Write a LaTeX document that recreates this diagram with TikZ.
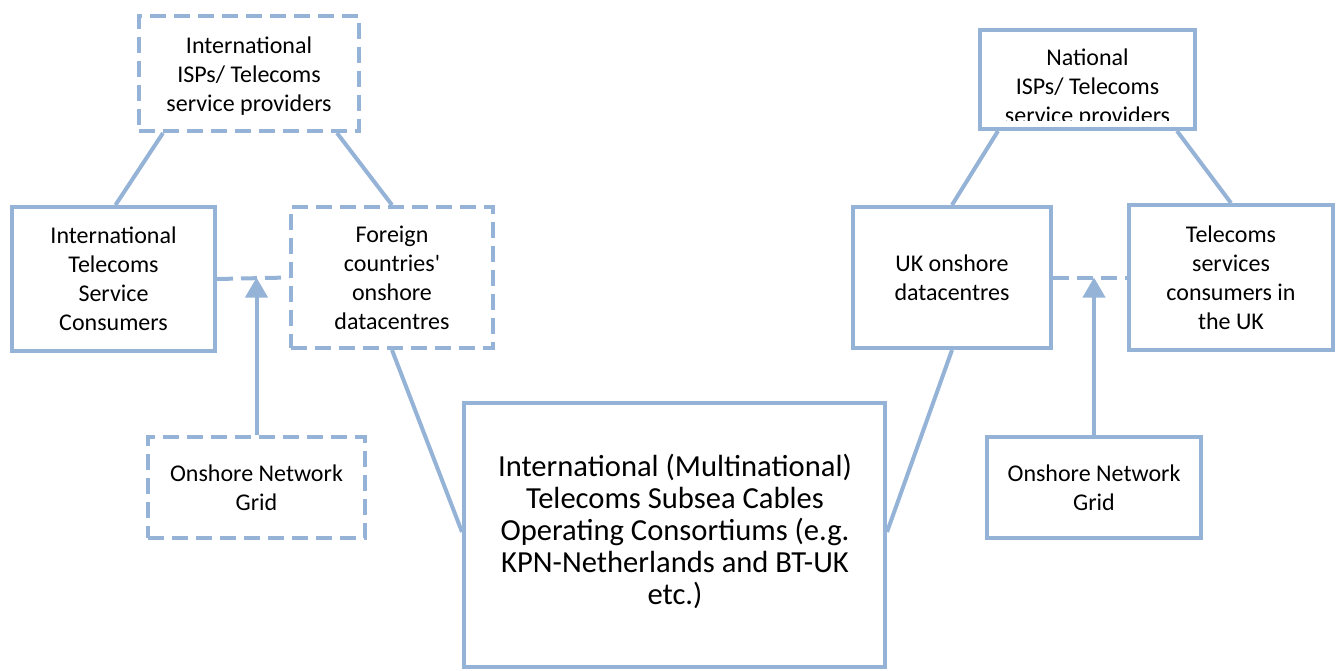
\documentclass[tikz,border=0pt]{standalone}
\usepackage{fontspec}
\setmainfont{Carlito}
\usetikzlibrary{arrows.meta,calc}
\definecolor{linkblue}{HTML}{95B3D7}
\tikzset{
  box/.style={draw=linkblue, line width=4pt, inner sep=0pt, align=center,
    font=\fontsize{24pt}{29pt}\selectfont},
  dashbox/.style={box, dash pattern=on 16pt off 8pt},
  link/.style={draw=linkblue, line width=4pt},
  dashlink/.style={link, dash pattern=on 16pt off 8pt},
  uparrow/.style={link, -{Triangle[width=22pt,length=20pt]}}
}
\begin{document}
\begin{tikzpicture}[x=1pt,y=-1pt]
\useasboundingbox (0,0) rectangle (1339,671);

% foreign side
\node[dashbox, minimum width=220pt, minimum height=115pt] (isp) at (249,73.5) {};
\node[font=\fontsize{24pt}{29pt}\selectfont, align=center, inner sep=0pt]
  (ispText) at (249,76) {International\\ISPs/ Telecoms\\service providers};
\node[box, minimum width=203pt, minimum height=144pt] (icons) at (113.5,279)
  {International\\Telecoms\\Service\\Consumers};
\node[dashbox, minimum width=202pt, minimum height=141pt] (foreign) at (392,277.5)
  {Foreign\\countries\textquotesingle\\onshore\\datacentres};
\node[dashbox, minimum width=217pt, minimum height=101pt] (lgrid) at (256.5,487.5)
  {Onshore Network\\Grid};

% subsea cable consortium
\node[box, minimum width=421pt, minimum height=264pt] (cable) at (674.5,535) {};
\node[font=\fontsize{30.6pt}{32pt}\selectfont, align=center, inner sep=0pt]
  (cableText) at (675,531)
  {International (Multinational)\\Telecoms Subsea Cables\\Operating Consortiums (e.g.\\KPN-Netherlands and BT-UK\\etc.)};

% UK side
\node[box, minimum width=215pt, minimum height=99pt] (nisp) at (1087.5,79.5) {};
\begin{scope}
  \clip (982,32) rectangle (1193,120.5);
  \node[font=\fontsize{24pt}{29pt}\selectfont, align=center, inner sep=0pt]
    (nispText) at (1087.5,88) {National\\ISPs/ Telecoms\\service providers};
\end{scope}
\node[box, minimum width=198pt, minimum height=141pt] (uk) at (952,277.5)
  {UK onshore\\datacentres};
\node[box, minimum width=204pt, minimum height=145pt] (tcons) at (1231,277.5)
  {Telecoms\\services\\consumers in\\the UK};
\node[box, minimum width=214pt, minimum height=101pt] (rgrid) at (1094,487.5)
  {Onshore Network\\Grid};

% links, foreign side
\draw[link] ([xshift=26pt]isp.south west) -- ([xshift=2pt]icons.north);
\draw[link] ([xshift=-24pt]isp.south east) -- (foreign.north);
\draw[dashlink] (icons.east) -- (foreign.west);
\draw[uparrow] (lgrid.north) -- (lgrid.north |- foreign.west);
\draw[link] (foreign.south) -- ([yshift=3pt]cable.west);

% links, UK side
\draw[link] ([yshift=3pt]cable.east) -- (uk.south);
\draw[link] ([xshift=20pt]nisp.south west) -- (uk.north);
\draw[link] ([xshift=-20pt]nisp.south east) -- (tcons.north);
\draw[dashlink] (uk.east) -- (tcons.west);
\draw[uparrow] (rgrid.north) -- (rgrid.north |- uk.east);
\end{tikzpicture}
\end{document}
